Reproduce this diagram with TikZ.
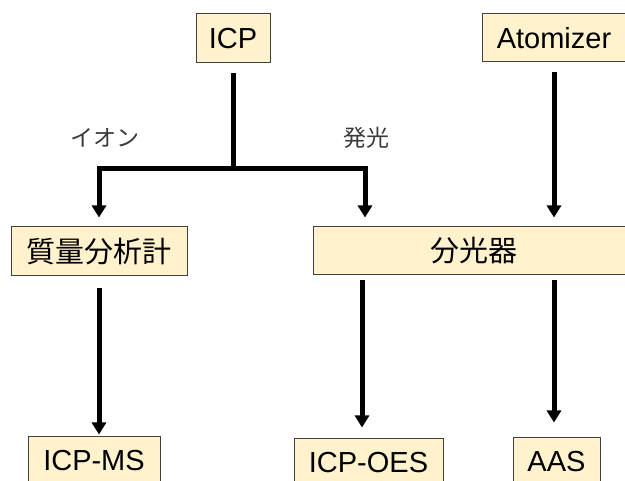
\documentclass[tikz,border=0pt]{standalone}
\usepackage{fontspec}
\setmainfont{Liberation Sans}
\newfontfamily\jp{Noto Sans CJK JP}
\usetikzlibrary{arrows.meta}
\definecolor{boxfill}{HTML}{FFF2CC}
\definecolor{boxline}{HTML}{404040}
\definecolor{lbl}{HTML}{3A3A3A}
\begin{document}
\begin{tikzpicture}[x=1pt,y=-1pt,
  box/.style={draw=boxline,line width=1pt,fill=boxfill,inner sep=0pt,font=\fontsize{29}{29}\selectfont},
  conn/.style={line width=5pt,black},
  arr/.style={conn,-{Triangle[length=12pt,width=14pt]}},
  lab/.style={inner sep=0pt,text=lbl,font=\jp\fontsize{23}{23}\selectfont}]
\useasboundingbox (0,0) rectangle (625,481);
\clip (0,0) rectangle (625,481);
\node[box,minimum width=74pt,minimum height=49pt] (icp) at (233,38.5) {ICP};
\node[box,minimum width=144pt,minimum height=48pt] (atom) at (554,38) {Atomizer};
\node[box,minimum width=176pt,minimum height=49pt,font=\jp\fontsize{29}{29}\selectfont] (mass) at (99,251.5) {質量分析計};
\node[box,minimum width=322pt,minimum height=48pt,font=\jp\fontsize{29}{29}\selectfont] (bunko) at (474,251) {分光器};
\node[box,minimum width=132pt,minimum height=48pt] (icpms) at (94,461) {ICP-MS};
\node[box,minimum width=149pt,minimum height=48pt] (icpoes) at (368.5,463) {ICP-OES};
\node[box,minimum width=87pt,minimum height=48pt] (aas) at (556.5,462) {AAS};
\node[lab] (ion) at (105,138) {イオン};
\node[lab] (hakko) at (366,138) {発光};
\coordinate (jn) at (233,169);
\coordinate (xr) at (365,0);
\coordinate (xoes) at (362,0);
\draw[conn,shorten <=10pt] (icp.south) -- (jn);
\draw[arr,shorten >=9pt] (jn) -| (mass.north);
\draw[arr,shorten >=9pt] (jn) -| (xr |- bunko.north);
\draw[arr,shorten <=10pt,shorten >=9pt] (atom.south) -- (atom.south |- bunko.north);
\draw[arr,shorten <=12pt,shorten >=2pt] (mass.south) -- (mass.south |- icpms.north);
\draw[arr,shorten <=5pt,shorten >=11pt] (xoes |- bunko.south) -- (xoes |- icpoes.north);
\draw[arr,shorten <=5pt,shorten >=15pt] (atom.south |- bunko.south) -- (atom.south |- aas.north);
\end{tikzpicture}
\end{document}
